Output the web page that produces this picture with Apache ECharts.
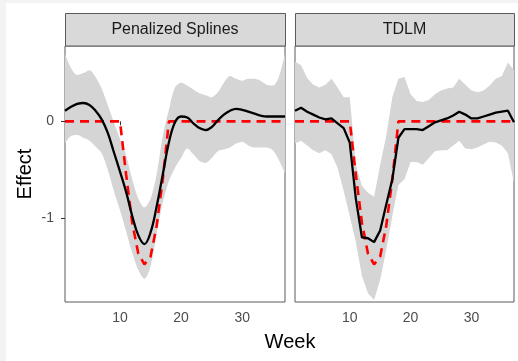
<!DOCTYPE html>
<html><head><meta charset="utf-8">
<script src="https://cdn.jsdelivr.net/npm/echarts@6/dist/echarts.min.js"></script>
<style>html,body{margin:0;padding:0;background:#fff}#c{width:518px;height:361px}</style>
</head><body><div id="c"></div>
<script>
const weeks = [1,2,3,4,5,6,7,8,9,10,11,12,13,14,15,16,17,18,19,20,21,22,23,24,25,26,27,28,29,30,31,32,33,34,35,36,37];
const xTickLabels = [10, 20, 30];
const yTickLabels = [-1, 0];
const panelTitles = ['Penalized Splines', 'TDLM'];

const trueEffect = [0,0,0,0,0,0,0,0,0,0,-0.55,-1.05,-1.37,-1.48,-1.40,-1.08,-0.60,0,0,0,0,0,0,0,0,0,0,0,0,0,0,0,0,0,0,0,0];

const psEst = [0.11,0.15,0.18,0.19,0.17,0.11,0.02,-0.12,-0.32,-0.52,-0.73,-0.98,-1.18,-1.27,-1.15,-0.88,-0.55,-0.22,-0.01,0.05,0.04,-0.02,-0.07,-0.09,-0.06,0.01,0.07,0.11,0.13,0.12,0.10,0.08,0.06,0.05,0.05,0.05,0.05];
const psUpper = [0.70,0.55,0.48,0.50,0.53,0.46,0.34,0.17,-0.01,-0.18,-0.35,-0.60,-0.80,-0.89,-0.80,-0.55,-0.15,0.12,0.35,0.40,0.37,0.33,0.29,0.27,0.25,0.30,0.40,0.47,0.44,0.42,0.44,0.44,0.42,0.38,0.37,0.46,0.70];
const psLower = [-0.23,-0.15,-0.14,-0.17,-0.20,-0.26,-0.33,-0.50,-0.72,-0.92,-1.14,-1.36,-1.54,-1.63,-1.50,-1.16,-0.84,-0.62,-0.48,-0.38,-0.28,-0.34,-0.41,-0.43,-0.38,-0.31,-0.29,-0.27,-0.23,-0.21,-0.25,-0.27,-0.27,-0.27,-0.30,-0.40,-0.54];

const tdlmEst = [0.11,0.14,0.10,0.07,0.04,0.02,0.03,-0.02,-0.07,-0.22,-0.80,-1.20,-1.21,-1.25,-1.13,-0.86,-0.60,-0.17,-0.08,-0.08,-0.08,-0.09,-0.05,-0.01,0.01,0.03,0.06,0.10,0.07,0.03,0.03,0.05,0.07,0.09,0.10,0.11,-0.01];
const tdlmUpper = [0.62,0.58,0.45,0.38,0.35,0.38,0.44,0.35,0.25,0.25,-0.45,-0.67,-0.74,-0.78,-0.45,-0.15,0.25,0.44,0.46,0.28,0.21,0.20,0.22,0.28,0.32,0.34,0.35,0.44,0.38,0.32,0.30,0.32,0.37,0.44,0.47,0.61,0.53];
const tdlmLower = [-0.23,-0.20,-0.25,-0.30,-0.33,-0.30,-0.34,-0.48,-0.72,-0.98,-1.25,-1.60,-1.78,-1.85,-1.64,-1.33,-0.98,-0.66,-0.60,-0.42,-0.42,-0.45,-0.38,-0.31,-0.30,-0.30,-0.25,-0.20,-0.28,-0.29,-0.27,-0.24,-0.21,-0.22,-0.25,-0.33,-0.64];

const chart = echarts.init(document.getElementById('c'), null, {renderer: 'canvas'});
const FONT = 'Liberation Sans, Arial, sans-serif';
const grids = [
  {left: 65, top: 46, width: 220, height: 256},
  {left: 295, top: 46, width: 219, height: 256}
];
const borderColor = '#5a5a5a';

function xAxis(i) {
  return {
    type: 'category', gridIndex: i, data: weeks, boundaryGap: false,
    axisLine: {show: false},
    axisTick: {show: true, length: 4, lineStyle: {color: '#333', width: 1},
      interval: (idx, v) => xTickLabels.indexOf(Number(v)) >= 0},
    axisLabel: {color: '#4d4d4d', fontSize: 14, fontFamily: FONT, margin: 9,
      interval: (idx, v) => xTickLabels.indexOf(Number(v)) >= 0},
    splitLine: {show: false}
  };
}
function yAxis(i) {
  return {
    type: 'value', gridIndex: i, min: -1.87, max: 0.78,
    axisLine: {show: false},
    axisTick: {show: i === 0, length: 4, customValues: yTickLabels, lineStyle: {color: '#333'}},
    axisLabel: {show: i === 0, color: '#4d4d4d', fontSize: 14, fontFamily: FONT, margin: 11,
      customValues: yTickLabels, formatter: v => String(v)},
    splitLine: {show: false}
  };
}
function band(i, lower, upper) {
  const diff = upper.map((u, k) => +(u - lower[k]).toFixed(3));
  const sm = i === 0 ? 0.3 : false;
  return [
    {type: 'line', xAxisIndex: i, yAxisIndex: i, data: lower, stack: 'b' + i, stackStrategy: 'all', symbol: 'none',
      smooth: sm, lineStyle: {opacity: 0}, silent: true, z: 1},
    {type: 'line', xAxisIndex: i, yAxisIndex: i, data: diff, stack: 'b' + i, stackStrategy: 'all', symbol: 'none',
      smooth: sm, lineStyle: {opacity: 0}, areaStyle: {color: '#d5d5d5', opacity: 1}, silent: true, z: 1}
  ];
}
function trueLine(i) {
  return {type: 'line', xAxisIndex: i, yAxisIndex: i, data: trueEffect, symbol: 'none', smooth: false,
    lineStyle: {color: '#ff0000', width: 2.6, type: [9, 6]}, z: 3};
}
function estLine(i, d, sm) {
  return {type: 'line', xAxisIndex: i, yAxisIndex: i, data: d, symbol: 'none', smooth: sm,
    lineStyle: {color: '#000', width: 2.3}, z: 4};
}

const strips = grids.map((g, i) => ([
  {type: 'rect', shape: {x: g.left + 0.5, y: 13.5, width: g.width, height: 32.5},
    style: {fill: '#d9d9d9', stroke: borderColor, lineWidth: 1}},
  {type: 'text', x: g.left + g.width / 2, y: 30,
    style: {text: panelTitles[i], fill: '#1a1a1a', font: '16px ' + FONT, align: 'center', verticalAlign: 'middle'}}
])).flat();

chart.setOption({
  animation: false,
  backgroundColor: '#fff',
  grid: grids.map(g => Object.assign({show: true, borderColor: borderColor, borderWidth: 1, backgroundColor: '#fff'}, g)),
  xAxis: [xAxis(0), xAxis(1)],
  yAxis: [yAxis(0), yAxis(1)],
  series: [
    ...band(0, psLower, psUpper), trueLine(0), estLine(0, psEst, 0.4),
    ...band(1, tdlmLower, tdlmUpper), trueLine(1), estLine(1, tdlmEst, false)
  ],
  graphic: [
    {type: 'rect', shape: {x: 0, y: 0, width: 518, height: 3}, style: {fill: '#f3f3f3'}, silent: true},
    {type: 'rect', shape: {x: 0, y: 0, width: 6, height: 361}, style: {fill: '#f3f3f3'}, silent: true},
    ...strips,
    {type: 'text', x: 290, y: 342, style: {text: 'Week', fill: '#000', font: '20px ' + FONT, align: 'center', verticalAlign: 'middle'}},
    {type: 'text', x: 25, y: 174, rotation: Math.PI / 2,
      style: {text: 'Effect', fill: '#000', font: '20px ' + FONT, align: 'center', verticalAlign: 'middle'}}
  ]
});
</script></body></html>
